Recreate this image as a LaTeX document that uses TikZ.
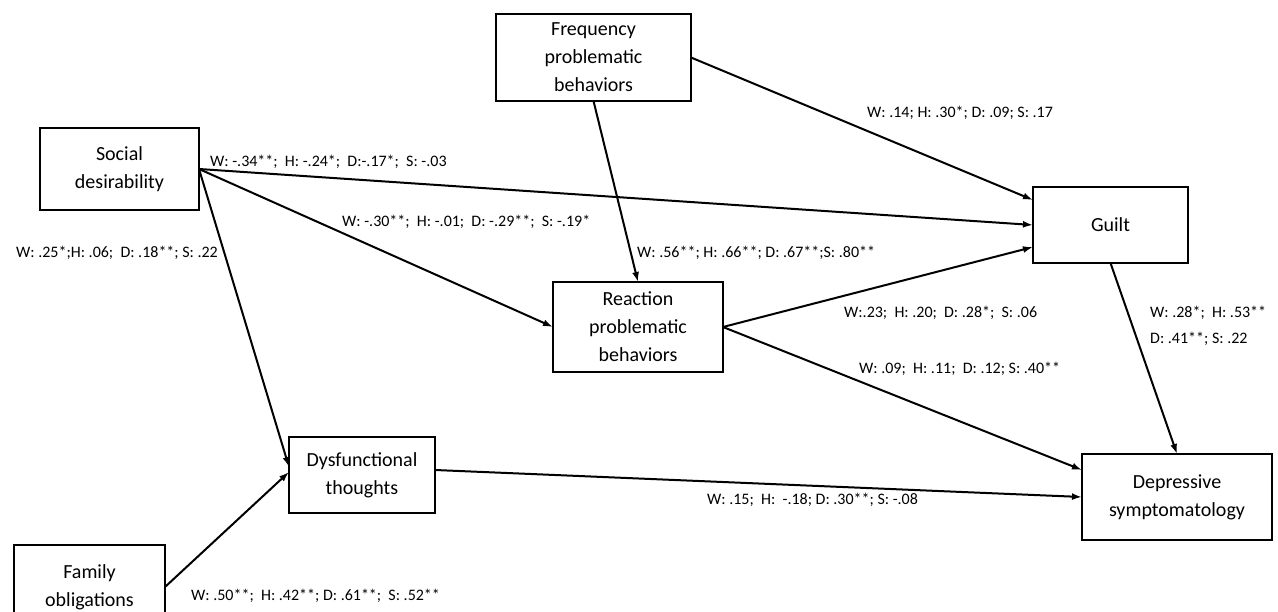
\documentclass[tikz,border=0pt]{standalone}
\usepackage{fontspec}
\setmainfont{Carlito}
\usepackage{tikz}
\usetikzlibrary{arrows.meta, positioning}
\tikzset{%
  var_block/.style={%
    rectangle,%
    draw=black,%
    line width=2pt,%
    inner sep=0pt,%
    outer sep=0pt,%
    font={\fontsize{20}{28}\selectfont},%
    align=center%
  },
  coef_annotate/.style={%
    anchor=west,%
    inner sep=0pt,%
    font={\fontsize{16}{26}\selectfont},%
  },
  path_line/.style={%
    color=black,%
    line join=round,%
    line width=2pt,%
  },
  arrow/.style={-{Latex[length=10pt, width=7pt]}},
}

\begin{document}
\begin{tikzpicture}[x=1pt, y=-1pt]

    \useasboundingbox (0, 0) rectangle (1278, 612);
    \clip (0, 0) rectangle (1278, 612);

    \node [var_block, minimum width=159pt, minimum height=82pt] (Social)
      at (119.5, 169) {%
      Social\\desirability%
    };
    \node [var_block, minimum width=195pt, minimum height=87pt,
      above right = 27pt and 297pt of Social] (Frequency) {%
      Frequency\\problematic\\behaviors%
    };
    \node [var_block, minimum width=170pt, minimum height=90pt,
      below right = 72pt and 354pt of Social] (Reaction) {%
      Reaction\\problematic\\behaviors%
    };
    \node [var_block, minimum width=155pt, minimum height=76pt,
      above right = 19pt and 310pt of Reaction] (Guilt) {%
      Guilt%
    };
    \node [var_block, minimum width=190pt, minimum height=86pt,
      below right = 82pt and 359pt of Reaction] (Depressive) {%
      Depressive\\symptomatology%
    };
    \node [var_block, minimum width=146pt, minimum height=76pt,
      below right = 227pt and 90pt of Social] (Dysfunctional) {%
      Dysfunctional\\thoughts%
    };
    \node [var_block, minimum width=151pt, minimum height=84pt,
      below left = 32pt and 124pt of Dysfunctional] (Family) {%
      Family\\obligations%
    };

    \node [coef_annotate] (coef_sg) at (210, 162)
      {W: -.34**;\ \ H: -.24*;\ \ D:-.17*; \ S: -.03};
    \node [coef_annotate] (coef_sd) at (16, 253)
      {W: .25*;H: .06;\ \ D: .18**; S: .22};
    \node [coef_annotate] (coef_sr) at (342, 222)
      {W: -.30**;\ \ H: -.01;\ \ D: -.29**;\ \ S: -.19*};
    \node [coef_annotate] (coef_fr) at (637, 253)
      {W: .56**; H: .66**; D: .67**;S: .80**};
    \node [coef_annotate] (coef_fg) at (867, 113)
      {W: .14; H: .30*; D: .09; S: .17};
    \node [coef_annotate] (coef_rg) at (844, 313)
      {W:.23;\ \ H: .20;\ \ D: .28*;\ \ S: .06};
    \node [coef_annotate] (coef_rd) at (859, 369)
      {W: .09;\ \ H: .11;\ \ D: .12; S: .40**};
    \node [coef_annotate, align=left] (coef_gd) at (1150, 326)
      {W: .28*;\ \ H: .53**\\ D: .41**; S: .22};
    \node [coef_annotate] (coef_dd) at (707, 500)
      {W: .15;\ \ H:\ \ -.18; D: .30**; S: -.08};
    \node [coef_annotate] (coef_fd) at (191, 596)
      {W: .50**;\ \ H: .42**; D: .61**;\ \ S: .52**};

    \draw [arrow, path_line]
      (Social.east)
      --
      (Guilt.west);
    \draw [arrow, path_line]
      (Social.east)
      --
      (Reaction.west);
    \draw [arrow, path_line]
      (Social.east)
      --
      ([yshift=8pt]Dysfunctional.west);
    \draw [arrow, path_line]
      (Family.east)
      --
      ([yshift=3pt]Dysfunctional.west);
    \draw [arrow, path_line]
      (Frequency.east)
      --
      ([yshift=25pt]Guilt.west);
    \draw [arrow, path_line]
      (Frequency.south)
      --
      (Reaction.north);
    \draw [arrow, path_line]
      (Reaction.east)
      --
      ([yshift=-22pt]Guilt.west);
    \draw [arrow, path_line]
      (Reaction.east)
      --
      ([yshift=27pt]Depressive.west);
    \draw [arrow, path_line]
      ([yshift=5pt]Dysfunctional.east)
      --
      (Depressive.west);
    \draw [arrow, path_line]
      (Guilt.south)
      --
      (Depressive.north);
  \end{tikzpicture}
\end{document}
